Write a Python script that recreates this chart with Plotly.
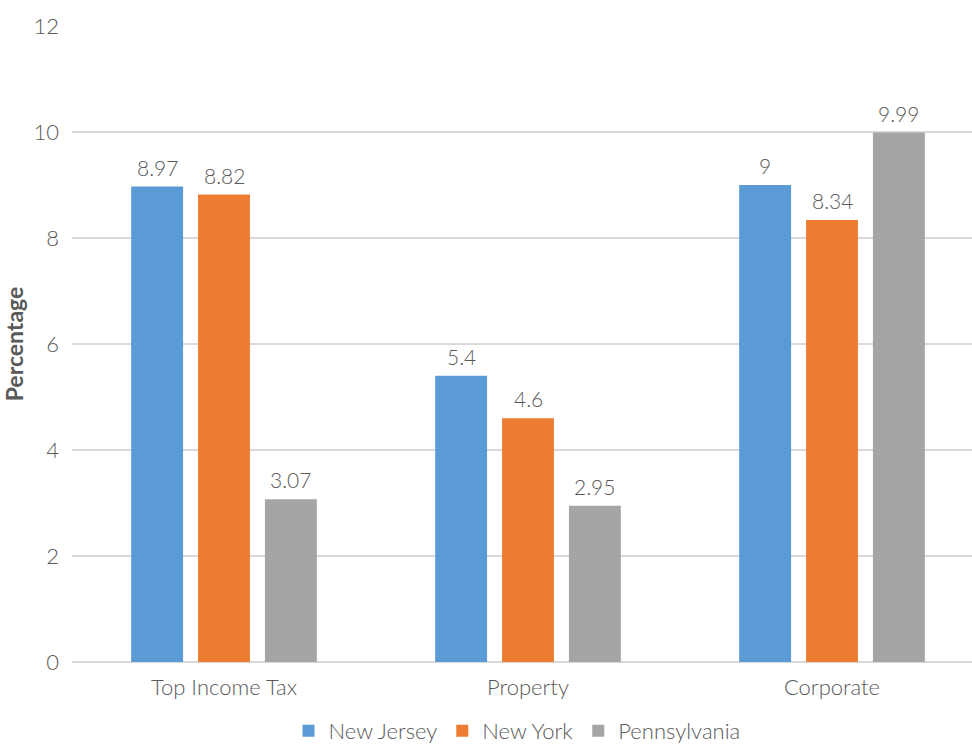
import plotly.graph_objects as go

categories = ["Top Income Tax", "Property", "Corporate"]
new_jersey = [8.97, 5.4, 9]
new_york = [8.82, 4.6, 8.34]
pennsylvania = [3.07, 2.95, 9.99]
y_ticks = [0, 2, 4, 6, 8, 10, 12]

series = [
    ("New Jersey", new_jersey, "#5B9BD5"),
    ("New York", new_york, "#ED7D31"),
    ("Pennsylvania", pennsylvania, "#A5A5A5"),
]

FONT = "Lato"
TEXT_COLOR = "#595959"
BAR_GAP = 0.34
GROUP_GAP = 0.224

fig = go.Figure()
for name, vals, color in series:
    fig.add_trace(go.Bar(
        name=name,
        x=categories,
        y=vals,
        marker=dict(color=color, line=dict(width=0)),
        hoverinfo="x+y+name",
    ))

# value labels above each bar, placed at the grouped bar centres
slot = (1 - BAR_GAP) / len(series)
for k, (name, vals, color) in enumerate(series):
    for i, v in enumerate(vals):
        fig.add_annotation(
            x=i + (k - (len(series) - 1) / 2) * slot,
            y=v,
            xref="x", yref="y",
            text=f"{v:g}",
            showarrow=False,
            yanchor="bottom",
            yshift=5,
            font=dict(family=FONT, size=21, color=TEXT_COLOR, weight=300),
        )

fig.update_layout(
    width=972,
    height=747,
    margin=dict(l=72, r=0, t=26, b=85),
    paper_bgcolor="white",
    plot_bgcolor="white",
    barmode="group",
    bargap=BAR_GAP,
    bargroupgap=GROUP_GAP,
    font=dict(family=FONT, color=TEXT_COLOR, size=21, weight=300),
    showlegend=True,
    legend=dict(
        orientation="h",
        x=517 / 972, xanchor="center", xref="container",
        y=16 / 747, yanchor="middle", yref="container",
        font=dict(family=FONT, size=22, color=TEXT_COLOR, weight=300),
        itemwidth=30,
        traceorder="normal",
    ),
    xaxis=dict(
        range=[-0.5, 2.4605],
        automargin=False,
        showgrid=False,
        showline=False,
        ticks="",
        ticklabelstandoff=10,
        tickfont=dict(family=FONT, size=22, color=TEXT_COLOR, weight=300),
    ),
    yaxis=dict(
        range=[0, 12],
        automargin=False,
        tickvals=y_ticks,
        showgrid=True,
        gridcolor="#D9D9D9",
        gridwidth=2,
        zeroline=True,
        zerolinecolor="#D9D9D9",
        zerolinewidth=2,
        ticks="",
        ticklabelstandoff=12,
        tickfont=dict(family=FONT, size=22, color=TEXT_COLOR, weight=300),
        title=dict(
            text="<b>Percentage</b>",
            font=dict(family=FONT, size=23, color=TEXT_COLOR),
            standoff=9,
        ),
    ),
)

fig.write_html("out.html")
